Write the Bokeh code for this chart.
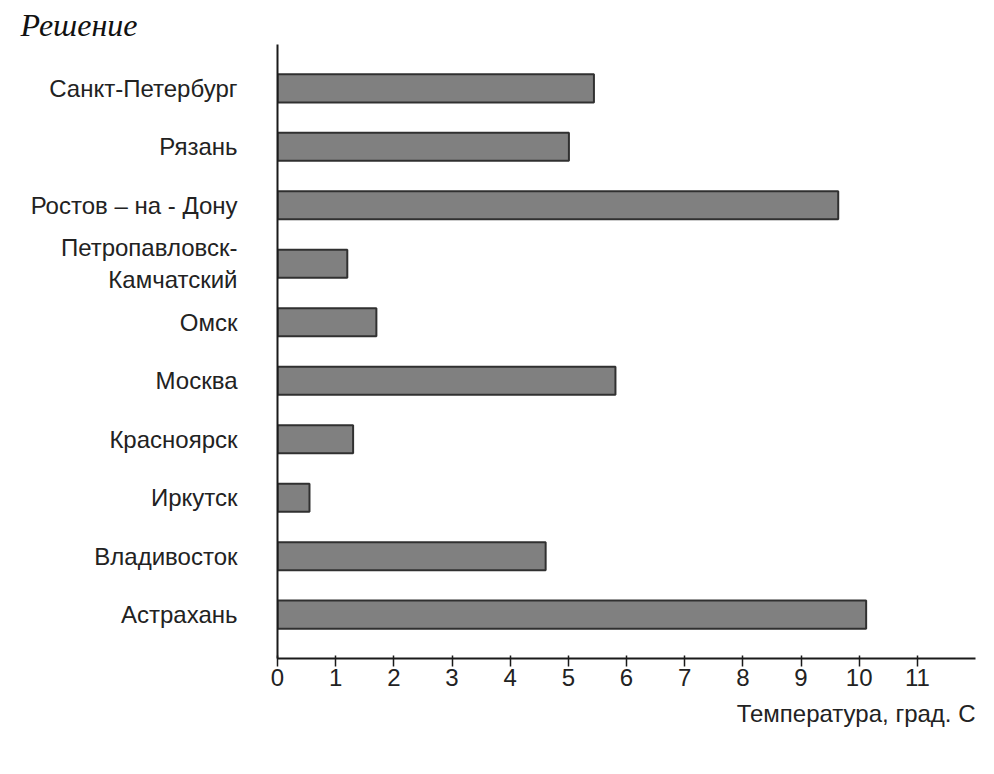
from bokeh.plotting import figure
from bokeh.models import FixedTicker, Title, ColumnDataSource
from bokeh.embed import file_html
from bokeh.resources import INLINE

cities = ["Санкт-Петербург", "Рязань", "Ростов – на - Дону", "Петропавловск-\nКамчатский",
          "Омск", "Москва", "Красноярск", "Иркутск", "Владивосток", "Астрахань"]
temps = [5.44, 5.01, 9.64, 1.2, 1.7, 5.81, 1.3, 0.55, 4.61, 10.12]
x_ticks = list(range(0, 12))

n = len(cities)
ypos = [n - 1 - i for i in range(n)]
src = ColumnDataSource(dict(y=ypos, t=temps, name=cities))

p = figure(width=978, height=758, output_backend="svg", toolbar_location=None,
           x_range=(0, 12.0), y_range=(-0.75, n - 0.25),
           min_border_left=277, min_border_right=3, min_border_top=44, min_border_bottom=100)

p.hbar(y="y", right="t", left=0, height=0.48, source=src,
       fill_color="#808080", line_color="#303030", line_width=2)

p.xgrid.visible = False
p.ygrid.visible = False
p.outline_line_color = None

ax = p.xaxis[0]
ax.ticker = FixedTicker(ticks=x_ticks)
ax.axis_line_width = 2
ax.axis_line_color = "#1a1a1a"
ax.major_tick_line_width = 1.5
ax.major_tick_line_color = "#1a1a1a"
ax.major_tick_in = 3
ax.major_tick_out = 8
ax.minor_tick_line_color = None
ax.major_label_text_font = "Liberation Sans"
ax.major_label_text_font_size = "24px"
ax.major_label_text_color = "#222222"
ax.major_label_standoff = 2

ay = p.yaxis[0]
ay.ticker = FixedTicker(ticks=ypos)
ay.major_label_overrides = {y: c for y, c in zip(ypos, cities)}
ay.axis_line_width = 2
ay.axis_line_color = "#1a1a1a"
ay.major_tick_line_color = None
ay.minor_tick_line_color = None
ay.major_label_text_font = "Liberation Sans"
ay.major_label_text_font_size = "24px"
ay.major_label_text_color = "#222222"
ay.major_label_standoff = 34

p.add_layout(Title(text="Температура, град. С", align="right", offset=0,
                   text_font="Liberation Sans", text_font_size="24px",
                   text_font_style="normal", text_color="#222222", standoff=18), "below")

p.add_layout(Title(text="Решение", align="left", offset=-257,
                   text_font="Liberation Serif", text_font_size="32px",
                   text_font_style="italic", text_color="#111111", standoff=3), "above")

open("out.html", "w").write(file_html(p, INLINE))
